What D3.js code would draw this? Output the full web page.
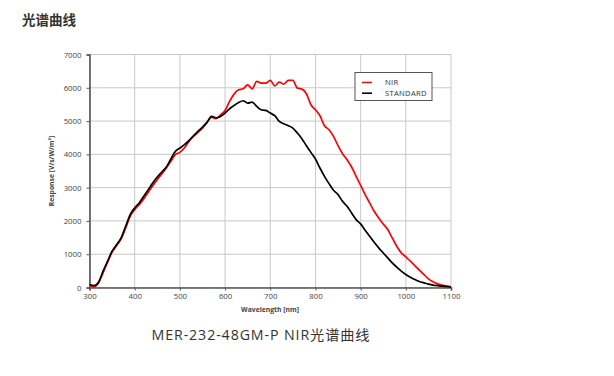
<!DOCTYPE html>
<html><head><meta charset="utf-8">
<script src="https://cdn.jsdelivr.net/npm/d3@7/dist/d3.min.js"></script>
<style>body{margin:0;background:#fff;}svg{display:block;}</style>
</head><body>
<script>
const wavelengths = [300,310,320,330,340,350,360,370,380,390,400,410,420,430,440,450,460,470,480,490,500,510,520,530,540,550,560,570,580,590,600,610,620,630,640,650,660,670,680,690,700,710,720,730,740,750,760,770,780,790,800,810,820,830,840,850,860,870,880,890,900,910,920,930,940,950,960,970,980,990,1000,1010,1020,1030,1040,1050,1060,1070,1080,1090,1100];
const nirValues = [60,20,140,440,760,1060,1260,1460,1790,2140,2340,2490,2660,2860,3060,3240,3410,3590,3790,3990,4060,4190,4390,4540,4660,4790,4960,5120,5070,5190,5320,5590,5810,5940,5970,6090,5970,6190,6140,6140,6220,6060,6170,6110,6220,6220,5990,5960,5820,5490,5340,5160,4860,4740,4540,4260,4020,3840,3620,3340,3070,2790,2540,2290,2090,1910,1740,1490,1240,1040,920,790,660,520,390,260,170,110,70,40,20];
const standardValues = [90,60,160,490,790,1090,1290,1490,1840,2190,2390,2540,2740,2940,3140,3320,3470,3620,3860,4090,4190,4290,4410,4560,4690,4820,4960,5140,5100,5140,5240,5370,5470,5560,5610,5540,5570,5440,5340,5320,5240,5160,4990,4920,4860,4790,4640,4470,4260,4060,3860,3590,3340,3120,2920,2790,2590,2440,2240,2040,1910,1720,1540,1360,1190,1040,890,740,610,490,390,310,240,180,140,100,70,55,40,30,20];
const xTicks = [300,400,500,600,700,800,900,1000,1100];
const yTicks = [0,1000,2000,3000,4000,5000,6000,7000];
const seriesNames = ["NIR","STANDARD"];
const seriesColors = ["#ff0000","#000000"];

const W = 614, H = 376;
const svg = d3.select("body").append("svg").attr("width", W).attr("height", H);
svg.append("rect").attr("width", W).attr("height", H).attr("fill", "#fff");

const x = d3.scaleLinear().domain([300,1100]).range([89.5,451]);
const y = d3.scaleLinear().domain([0,7000]).range([287.5,54.5]);

// title
svg.append("text").attr("x",22).attr("y",25).attr("font-family","'Noto Sans CJK SC', sans-serif")
  .attr("font-size",13.5).attr("font-weight","bold").attr("fill","#333").text("光谱曲线");

// grid
const g = svg.append("g");
g.selectAll(".vg").data(xTicks).join("line").attr("x1",d=>x(d)).attr("x2",d=>x(d))
  .attr("y1",y(7000)).attr("y2",y(0)).attr("stroke","#c8c8c8").attr("stroke-width",1);
g.selectAll(".hg").data(yTicks).join("line").attr("y1",d=>y(d)).attr("y2",d=>y(d))
  .attr("x1",x(300)).attr("x2",x(1100)).attr("stroke","#c8c8c8").attr("stroke-width",1);

// axes
const xAxis = d3.axisBottom(x).tickValues(xTicks).tickSize(3).tickPadding(3).tickFormat(d3.format("d"));
const yAxis = d3.axisLeft(y).tickValues(yTicks).tickSize(3).tickPadding(5).tickFormat(d3.format("d"));
const gx = svg.append("g").attr("transform",`translate(0,${y(0)})`).call(xAxis);
const gy = svg.append("g").attr("transform",`translate(${x(300)},0)`).call(yAxis);
[gx,gy].forEach(a=>{
  a.select(".domain").attr("stroke","#555").attr("stroke-width",1.6);
  a.selectAll(".tick line").attr("stroke","#555");
  a.selectAll(".tick text").attr("font-family","'Open Sans', sans-serif").attr("font-size",7.8).attr("fill","#444");
});

// lines
const line = d3.line().x((d,i)=>x(wavelengths[i])).y(d=>y(d)).curve(d3.curveMonotoneX);
[nirValues, standardValues].forEach((vals,k)=>{
  svg.append("path").datum(vals).attr("d",line).attr("fill","none")
    .attr("stroke",seriesColors[k]).attr("stroke-width",1.7).attr("stroke-linejoin","round");
});

// axis labels
svg.append("text").attr("x",270).attr("y",312).attr("text-anchor","middle")
  .attr("font-family","'Open Sans', sans-serif").attr("font-size",6.8).attr("font-weight","bold").attr("fill","#444")
  .text("Wavelength [nm]");
svg.append("text").attr("transform","translate(54,171) rotate(-90)").attr("text-anchor","middle")
  .attr("font-family","'Open Sans', sans-serif").attr("font-size",6.8).attr("font-weight","bold").attr("fill","#444")
  .text("Response [V/s/W/m²]");

// legend
const lg = svg.append("g");
lg.append("rect").attr("x",355).attr("y",72.5).attr("width",77).attr("height",28)
  .attr("fill","#fff").attr("stroke","#555").attr("stroke-width",1);
seriesNames.forEach((n,i)=>{
  const yy = 82.5 + i*10.7;
  lg.append("line").attr("x1",362).attr("x2",372).attr("y1",yy).attr("y2",yy)
    .attr("stroke",seriesColors[i]).attr("stroke-width",1.6);
  lg.append("text").attr("x",385).attr("y",yy+2.6).attr("font-family","'Open Sans', sans-serif")
    .attr("font-size",7.6).attr("letter-spacing",0.3).attr("fill","#333").text(n);
});

// caption
svg.append("text").attr("x",261).attr("y",340).attr("text-anchor","middle")
  .attr("font-family","'Open Sans','Noto Sans CJK SC', sans-serif").attr("font-size",14.2).attr("letter-spacing",0.9).attr("fill","#333")
  .text("MER-232-48GM-P NIR光谱曲线");
</script>
</body></html>
